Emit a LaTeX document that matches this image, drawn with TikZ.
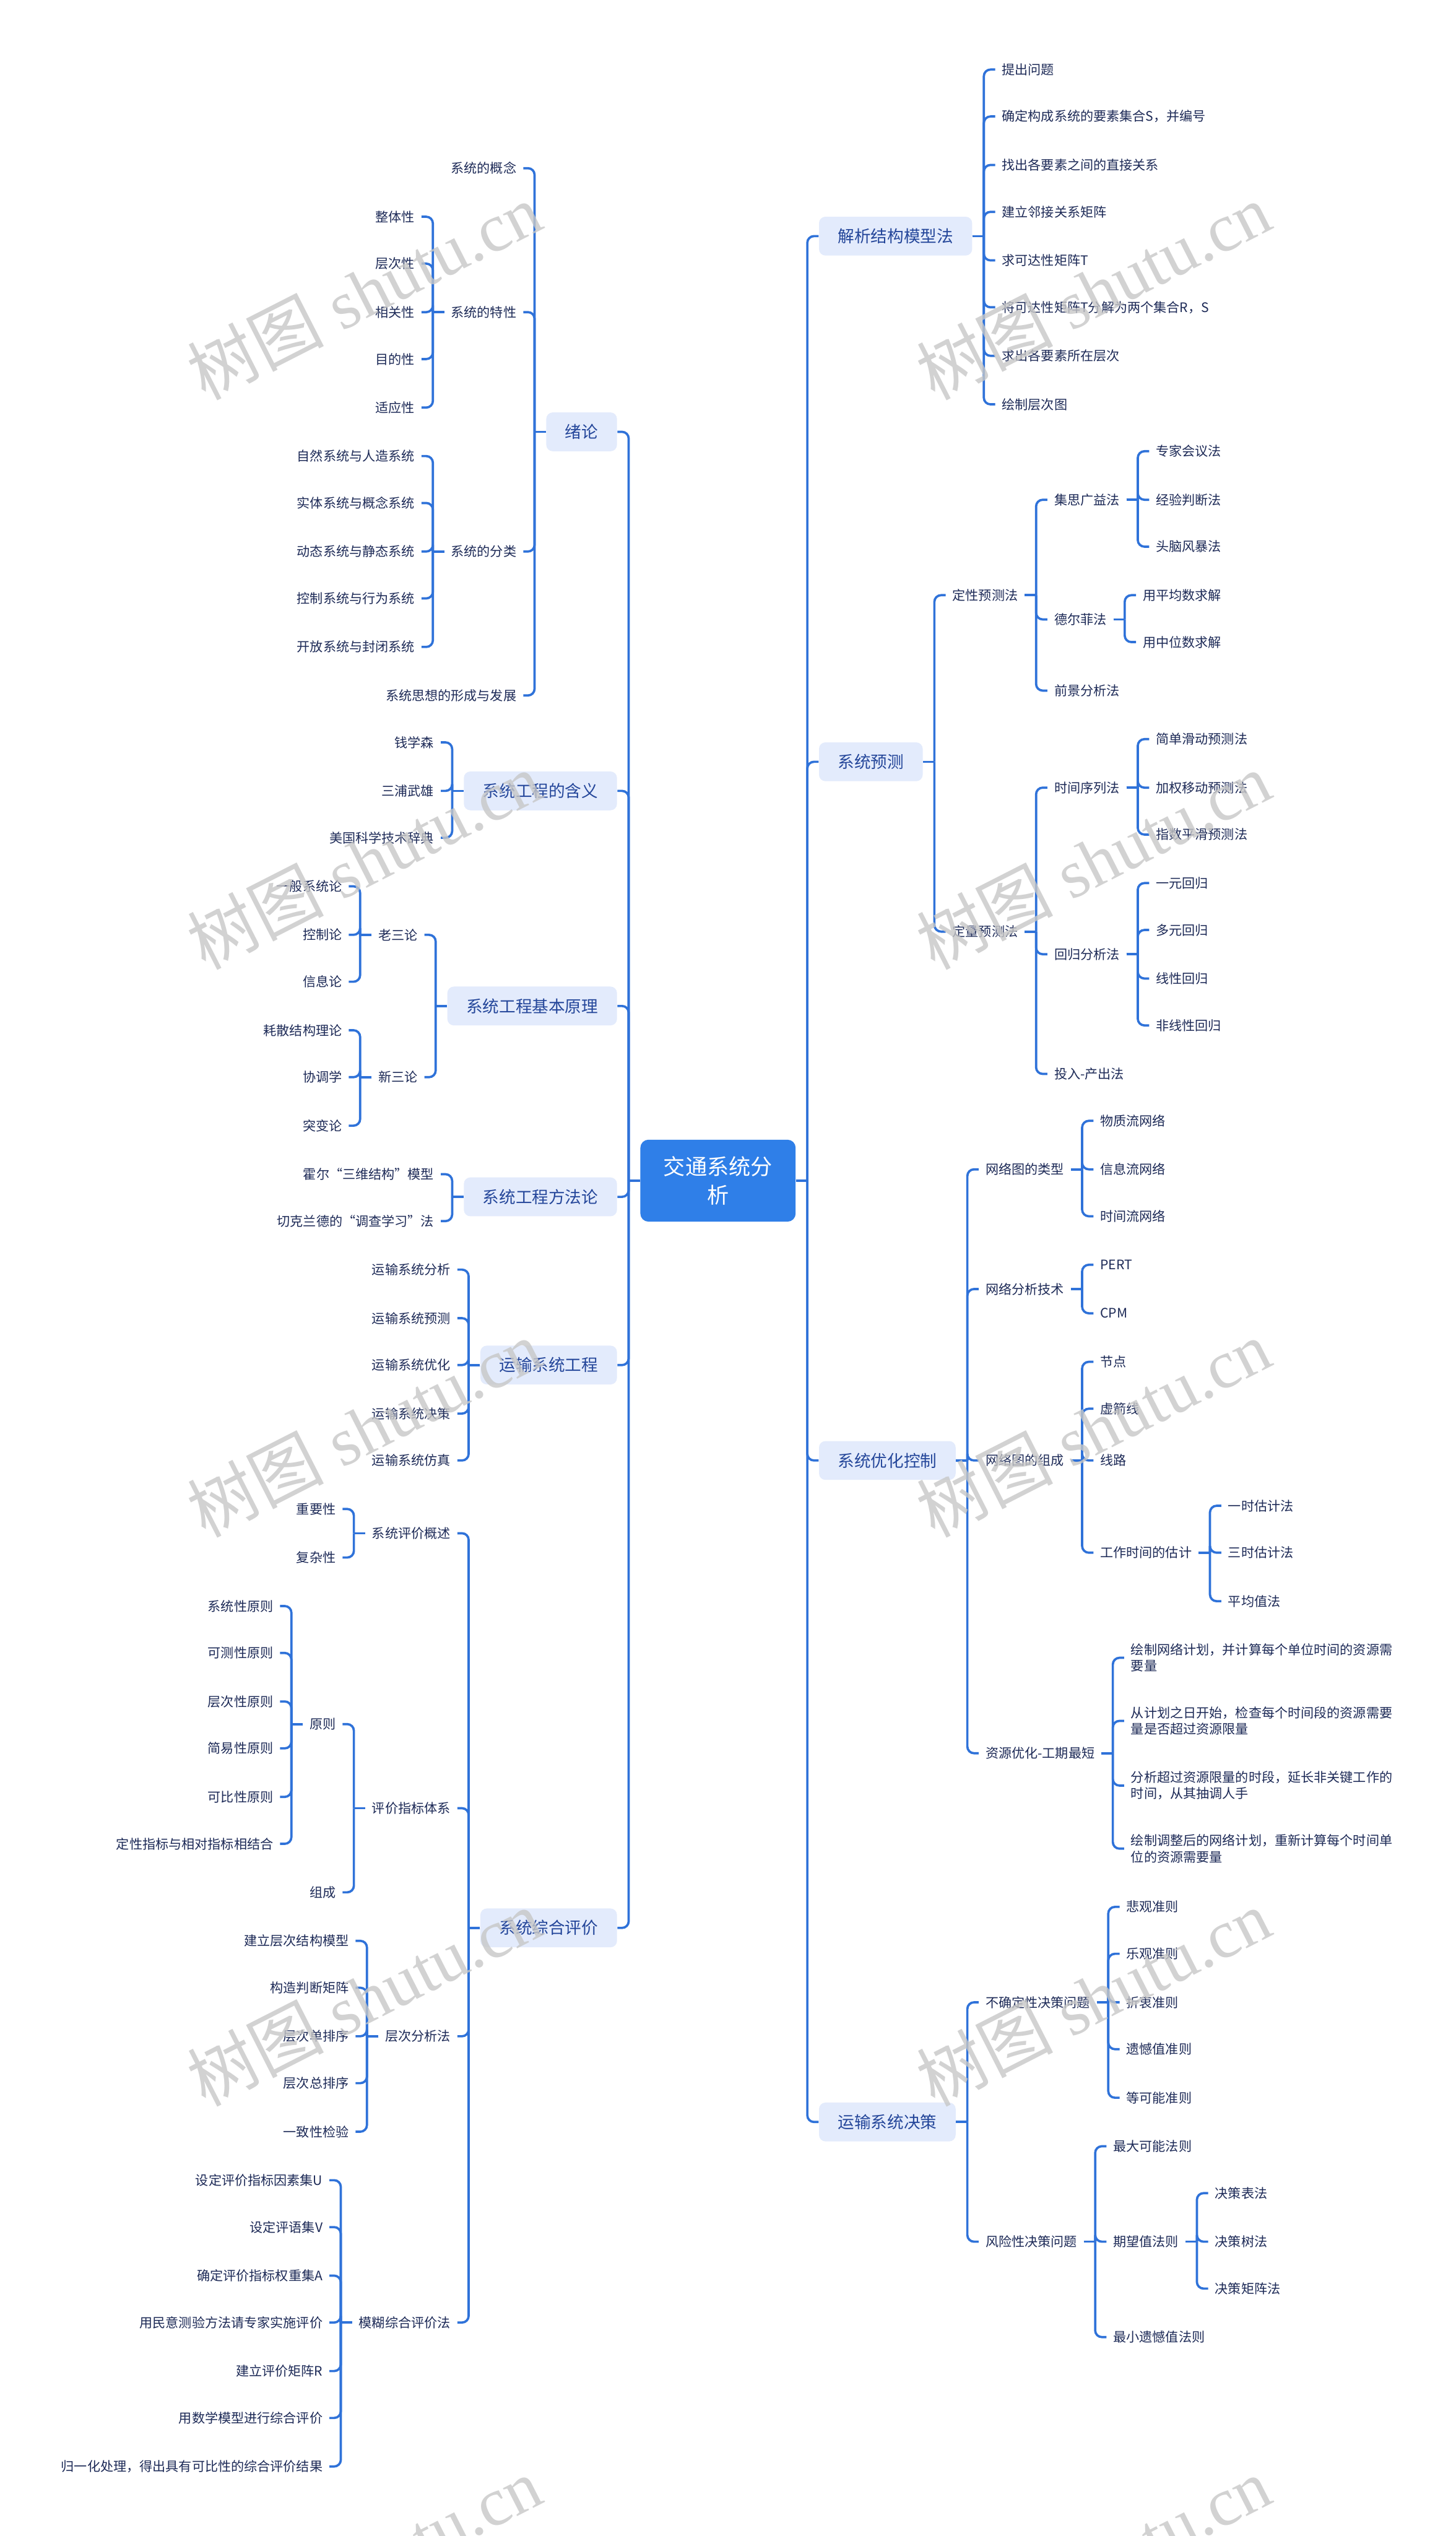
\documentclass[tikz,border=0pt]{standalone}
\usepackage{fontspec}
\setmainfont{Noto Sans CJK SC}
\newfontfamily\wmserif{Liberation Serif}
\definecolor{lc}{HTML}{2F72D9}
\definecolor{rootfill}{HTML}{2F7FE8}
\definecolor{boxfill}{HTML}{E3EBFC}
\definecolor{maintext}{HTML}{24469A}
\definecolor{leaftext}{HTML}{1D2A57}
\tikzset{
  ln/.style={draw=lc, line width=1.2pt},
  lf/.style={font=\fontsize{6.9}{8.6}\selectfont, text=leaftext, inner xsep=0.12cm, inner ysep=1pt, align=left},
  mb/.style={font=\fontsize{8.7}{10}\selectfont, text=maintext, fill=boxfill, rounded corners=0.12cm, inner xsep=0.35cm, inner ysep=0pt, minimum height=0.72cm},
  rootbox/.style={font=\fontsize{11.5}{15}\selectfont, text=white, fill=rootfill, rounded corners=0.15cm, minimum width=2.88cm, minimum height=1.52cm, align=center, inner sep=0pt},
  wm/.style={font=\fontsize{36}{36}\selectfont, text=black!22, opacity=0.8, rotate=27}
}
% left child: [style]{parent}{name}{y}{text}
\newcommand\Lc[5][lf]{%
  \path (#2.west) ++(-14,0) coordinate (tmp);
  \node[#1,anchor=east] (#3) at (tmp |- 0,#4) {#5};
  \draw[ln] (#2.west) -- ++(-7,0);
  \draw[ln,rounded corners=3.5pt] (#2.west) ++(-7,0) |- (#3.east);
}
% right child
\newcommand\Rc[5][lf]{%
  \path (#2.east) ++(14,0) coordinate (tmp);
  \node[#1,anchor=west] (#3) at (tmp |- 0,#4) {#5};
  \draw[ln] (#2.east) -- ++(7,0);
  \draw[ln,rounded corners=3.5pt] (#2.east) ++(7,0) |- (#3.west);
}
\begin{document}
\begin{tikzpicture}[x=0.03cm,y=-0.03cm]
\useasboundingbox (0,0) rectangle (900,1568);
\fill[white] (0,0) rectangle (900,1568);

\node[rootbox] (R) at (444,730) {交通系统分\\析};

% ---------------- left side ----------------
\Lc[mb]{R}{L1}{267}{绪论}
 \Lc{L1}{L1a}{104}{系统的概念}
 \Lc{L1}{L1b}{193}{系统的特性}
  \Lc{L1b}{L1b1}{134}{整体性}
  \Lc{L1b}{L1b2}{163}{层次性}
  \Lc{L1b}{L1b3}{193}{相关性}
  \Lc{L1b}{L1b4}{222}{目的性}
  \Lc{L1b}{L1b5}{252}{适应性}
 \Lc{L1}{L1c}{341}{系统的分类}
  \Lc{L1c}{L1c1}{282}{自然系统与人造系统}
  \Lc{L1c}{L1c2}{311}{实体系统与概念系统}
  \Lc{L1c}{L1c3}{341}{动态系统与静态系统}
  \Lc{L1c}{L1c4}{370}{控制系统与行为系统}
  \Lc{L1c}{L1c5}{400}{开放系统与封闭系统}
 \Lc{L1}{L1d}{430}{系统思想的形成与发展}

\Lc[mb]{R}{L2}{489}{系统工程的含义}
 \Lc{L2}{L2a}{459}{钱学森}
 \Lc{L2}{L2b}{489}{三浦武雄}
 \Lc{L2}{L2c}{518}{美国科学技术辞典}

\Lc[mb]{R}{L3}{622}{系统工程基本原理}
 \Lc{L3}{L3a}{578}{老三论}
  \Lc{L3a}{L3a1}{548}{一般系统论}
  \Lc{L3a}{L3a2}{578}{控制论}
  \Lc{L3a}{L3a3}{607}{信息论}
 \Lc{L3}{L3b}{666}{新三论}
  \Lc{L3b}{L3b1}{637}{耗散结构理论}
  \Lc{L3b}{L3b2}{666}{协调学}
  \Lc{L3b}{L3b3}{696}{突变论}

\Lc[mb]{R}{L4}{740}{系统工程方法论}
 \Lc{L4}{L4a}{726}{霍尔“三维结构”模型}
 \Lc{L4}{L4b}{755}{切克兰德的“调查学习”法}

\Lc[mb]{R}{L5}{844}{运输系统工程}
 \Lc{L5}{L5a}{785}{运输系统分析}
 \Lc{L5}{L5b}{815}{运输系统预测}
 \Lc{L5}{L5c}{844}{运输系统优化}
 \Lc{L5}{L5d}{874}{运输系统决策}
 \Lc{L5}{L5e}{903}{运输系统仿真}

\Lc[mb]{R}{L6}{1192}{系统综合评价}
 \Lc{L6}{L6a}{948}{系统评价概述}
  \Lc{L6a}{L6a1}{933}{重要性}
  \Lc{L6a}{L6a2}{963}{复杂性}
 \Lc{L6}{L6b}{1118}{评价指标体系}
  \Lc{L6b}{L6b1}{1066}{原则}
   \Lc{L6b1}{P1}{993}{系统性原则}
   \Lc{L6b1}{P2}{1022}{可测性原则}
   \Lc{L6b1}{P3}{1052}{层次性原则}
   \Lc{L6b1}{P4}{1081}{简易性原则}
   \Lc{L6b1}{P5}{1111}{可比性原则}
   \Lc{L6b1}{P6}{1140}{定性指标与相对指标相结合}
  \Lc{L6b}{L6b2}{1170}{组成}
 \Lc{L6}{L6c}{1259}{层次分析法}
  \Lc{L6c}{L6c1}{1200}{建立层次结构模型}
  \Lc{L6c}{L6c2}{1229}{构造判断矩阵}
  \Lc{L6c}{L6c3}{1259}{层次单排序}
  \Lc{L6c}{L6c4}{1288}{层次总排序}
  \Lc{L6c}{L6c5}{1318}{一致性检验}
 \Lc{L6}{L6d}{1436}{模糊综合评价法}
  \Lc{L6d}{F1}{1348}{设定评价指标因素集U}
  \Lc{L6d}{F2}{1377}{设定评语集V}
  \Lc{L6d}{F3}{1407}{确定评价指标权重集A}
  \Lc{L6d}{F4}{1436}{用民意测验方法请专家实施评价}
  \Lc{L6d}{F5}{1466}{建立评价矩阵R}
  \Lc{L6d}{F6}{1495}{用数学模型进行综合评价}
  \Lc{L6d}{F7}{1525}{归一化处理，得出具有可比性的综合评价结果}

% ---------------- right side ----------------
\Rc[mb]{R}{R1}{146}{解析结构模型法}
 \Rc{R1}{R1a}{43}{提出问题}
 \Rc{R1}{R1b}{72}{确定构成系统的要素集合S，并编号}
 \Rc{R1}{R1c}{102}{找出各要素之间的直接关系}
 \Rc{R1}{R1d}{131}{建立邻接关系矩阵}
 \Rc{R1}{R1e}{161}{求可达性矩阵T}
 \Rc{R1}{R1f}{190}{将可达性矩阵T分解为两个集合R，S}
 \Rc{R1}{R1g}{220}{求出各要素所在层次}
 \Rc{R1}{R1h}{250}{绘制层次图}

\Rc[mb]{R}{R2}{471}{系统预测}
 \Rc{R2}{R2a}{368}{定性预测法}
  \Rc{R2a}{R2a1}{309}{集思广益法}
   \Rc{R2a1}{Q1}{279}{专家会议法}
   \Rc{R2a1}{Q2}{309}{经验判断法}
   \Rc{R2a1}{Q3}{338}{头脑风暴法}
  \Rc{R2a}{R2a2}{383}{德尔菲法}
   \Rc{R2a2}{Q4}{368}{用平均数求解}
   \Rc{R2a2}{Q5}{397}{用中位数求解}
  \Rc{R2a}{R2a3}{427}{前景分析法}
 \Rc{R2}{R2b}{576}{定量预测法}
  \Rc{R2b}{R2b1}{487}{时间序列法}
   \Rc{R2b1}{S1}{457}{简单滑动预测法}
   \Rc{R2b1}{S2}{487}{加权移动预测法}
   \Rc{R2b1}{S3}{516}{指数平滑预测法}
  \Rc{R2b}{R2b2}{590}{回归分析法}
   \Rc{R2b2}{S4}{546}{一元回归}
   \Rc{R2b2}{S5}{575}{多元回归}
   \Rc{R2b2}{S6}{605}{线性回归}
   \Rc{R2b2}{S7}{634}{非线性回归}
  \Rc{R2b}{R2b3}{664}{投入-产出法}

\Rc[mb]{R}{R3}{903}{系统优化控制}
 \Rc{R3}{R3a}{723}{网络图的类型}
  \Rc{R3a}{N1}{693}{物质流网络}
  \Rc{R3a}{N2}{723}{信息流网络}
  \Rc{R3a}{N3}{752}{时间流网络}
 \Rc{R3}{R3b}{797}{网络分析技术}
  \Rc{R3b}{N4}{782}{PERT}
  \Rc{R3b}{N5}{812}{CPM}
 \Rc{R3}{R3c}{903}{网络图的组成}
  \Rc{R3c}{N6}{842}{节点}
  \Rc{R3c}{N7}{871}{虚箭线}
  \Rc{R3c}{N8}{903}{线路}
  \Rc{R3c}{N9}{960}{工作时间的估计}
   \Rc{N9}{T1}{931}{一时估计法}
   \Rc{N9}{T2}{960}{三时估计法}
   \Rc{N9}{T3}{990}{平均值法}
 \Rc{R3}{R3d}{1084}{资源优化-工期最短}
  \Rc{R3d}{U1}{1025}{绘制网络计划，并计算每个单位时间的资源需\\要量}
  \Rc{R3d}{U2}{1064}{从计划之日开始，检查每个时间段的资源需要\\量是否超过资源限量}
  \Rc{R3d}{U3}{1104}{分析超过资源限量的时段，延长非关键工作的\\时间，从其抽调人手}
  \Rc{R3d}{U4}{1143}{绘制调整后的网络计划，重新计算每个时间单\\位的资源需要量}

\Rc[mb]{R}{R4}{1312}{运输系统决策}
 \Rc{R4}{R4a}{1238}{不确定性决策问题}
  \Rc{R4a}{D1}{1179}{悲观准则}
  \Rc{R4a}{D2}{1208}{乐观准则}
  \Rc{R4a}{D3}{1238}{折衷准则}
  \Rc{R4a}{D4}{1267}{遗憾值准则}
  \Rc{R4a}{D5}{1297}{等可能准则}
 \Rc{R4}{R4b}{1386}{风险性决策问题}
  \Rc{R4b}{E1}{1327}{最大可能法则}
  \Rc{R4b}{E2}{1386}{期望值法则}
   \Rc{E2}{E21}{1356}{决策表法}
   \Rc{E2}{E22}{1386}{决策树法}
   \Rc{E2}{E23}{1415}{决策矩阵法}
  \Rc{R4b}{E3}{1445}{最小遗憾值法则}

% ---------------- watermarks ----------------
\begin{scope}
\clip (0,0) rectangle (900,1568);
\foreach \wy [count=\i] in {180,532,883,1235,1586}{
  \node[wm] (wl\i) at (225,\wy) {树图\hspace{0.25em}{\wmserif shutu.cn}};
  \node[wm] (wr\i) at (676,\wy) {树图\hspace{0.25em}{\wmserif shutu.cn}};
}
\end{scope}
\end{tikzpicture}
\end{document}
